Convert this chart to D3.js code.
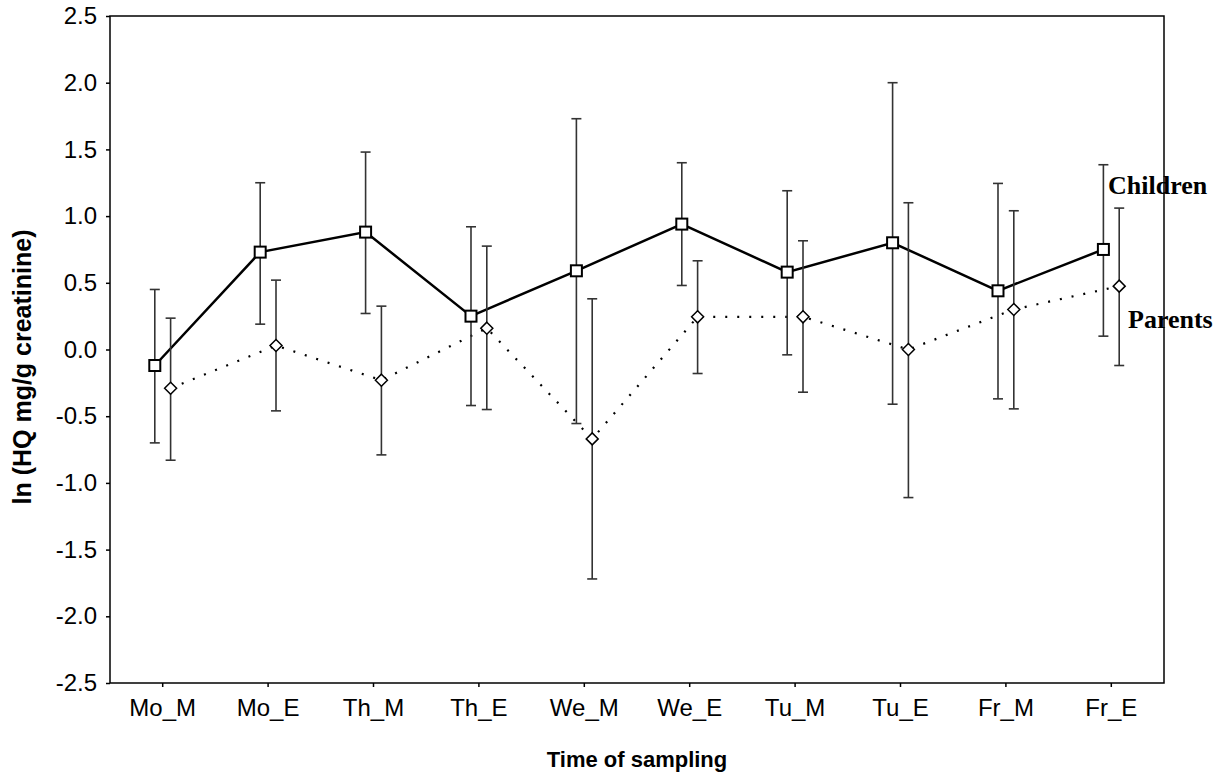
<!DOCTYPE html>
<html lang="en">
<head>
<meta charset="utf-8">
<title>HQ children vs parents</title>
<script src="https://cdn.jsdelivr.net/npm/d3@7"></script>
<style>
  body { margin: 0; background: #fff; }
  text { font-family: Arial, "Liberation Sans", sans-serif; }
  text.serif { font-family: "Liberation Serif", "Times New Roman", serif; }
</style>
</head>
<body>
<script>
// categories and values
var times = ["Mo_M","Mo_E","Th_M","Th_E","We_M","We_E","Tu_M","Tu_E","Fr_M","Fr_E"];
var childMean = [-0.12, 0.73, 0.88, 0.25, 0.59, 0.94, 0.58, 0.80, 0.44, 0.75];
var childLow  = [-0.70, 0.19, 0.27, -0.42, -0.555, 0.48, -0.04, -0.41, -0.37, 0.10];
var childHigh = [0.45, 1.25, 1.48, 0.92, 1.73, 1.40, 1.19, 2.00, 1.245, 1.385];
var parMean = [-0.29, 0.03, -0.23, 0.16, -0.67, 0.245, 0.245, 0.0, 0.30, 0.475];
var parLow  = [-0.83, -0.46, -0.79, -0.45, -1.72, -0.18, -0.32, -1.11, -0.445, -0.12];
var parHigh = [0.235, 0.52, 0.325, 0.775, 0.38, 0.665, 0.815, 1.10, 1.04, 1.06];
var yTicks = [-2.5,-2.0,-1.5,-1.0,-0.5,0.0,0.5,1.0,1.5,2.0,2.5];

var w = 1228, h = 773;
var mLeft = 110, mRight = 1164, mTop = 16, mBottom = 683;

var svg = d3.select("body").append("svg").attr("width", w).attr("height", h);

var x = d3.scaleBand().domain(times).range([mLeft, mRight]).padding(0);
var y = d3.scaleLinear().domain([-2.5, 2.5]).range([mBottom, mTop]);
var off = x.bandwidth() * 0.075;

function series(mean, lo, hi, dx) {
  return times.map(function(t, i) {
    return { t: t, m: mean[i], lo: lo[i], hi: hi[i], x: x(t) + x.bandwidth() / 2 + dx };
  });
}
var kids = series(childMean, childLow, childHigh, -off);
var pars = series(parMean, parLow, parHigh, off);

// axes
var xAxis = d3.axisBottom(x).tickSize(4).tickSizeOuter(0);
var gx = svg.append("g").attr("transform", "translate(0," + mBottom + ")").call(xAxis);
gx.selectAll("text").attr("font-size", 24).attr("dy", "1.1em").attr("fill", "#000");

var yAxis = d3.axisLeft(y).tickValues(yTicks).tickFormat(d3.format(".1f")).tickSize(4).tickSizeOuter(0);
var gy = svg.append("g").attr("transform", "translate(" + mLeft + ",0)").call(yAxis);
gy.selectAll("text").attr("font-size", 24).attr("x", -13).attr("fill", "#000")
  .text(function(d) { return d3.format(".1f")(d).replace("\u2212", "-"); });

svg.selectAll(".domain").remove();
svg.selectAll(".tick line").attr("stroke", "#000").attr("stroke-width", 1.5);

// frame
svg.append("rect").attr("x", mLeft).attr("y", mTop).attr("width", mRight - mLeft).attr("height", mBottom - mTop)
  .attr("fill", "none").attr("stroke", "#000").attr("stroke-width", 1.5);

// axis titles
svg.append("text").attr("x", (mLeft + mRight) / 2).attr("y", 767).attr("text-anchor", "middle")
  .attr("font-size", 22).attr("font-weight", "bold").text("Time of sampling");
svg.append("text").attr("transform", "translate(31,367) rotate(-90)")
  .attr("text-anchor", "middle").attr("font-size", 25).attr("font-weight", "bold")
  .text("ln (HQ mg/g creatinine)");

// lines
var line = d3.line().x(function(d) { return d.x; }).y(function(d) { return y(d.m); });
svg.append("path").datum(pars).attr("d", line).attr("fill", "none").attr("stroke", "#000")
  .attr("stroke-width", 2.2).attr("stroke-dasharray", "2,10");
svg.append("path").datum(kids).attr("d", line).attr("fill", "none").attr("stroke", "#000")
  .attr("stroke-width", 2.5);

// error bars
function errBars(data, cls) {
  var g = svg.append("g").attr("class", cls).attr("stroke", "#333").attr("stroke-width", 1.6);
  g.selectAll(".v").data(data).enter().append("line")
    .attr("x1", function(d) { return d.x; }).attr("x2", function(d) { return d.x; })
    .attr("y1", function(d) { return y(d.lo); }).attr("y2", function(d) { return y(d.hi); });
  g.selectAll(".lo").data(data).enter().append("line")
    .attr("x1", function(d) { return d.x - 5; }).attr("x2", function(d) { return d.x + 5; })
    .attr("y1", function(d) { return y(d.lo); }).attr("y2", function(d) { return y(d.lo); });
  g.selectAll(".hi").data(data).enter().append("line")
    .attr("x1", function(d) { return d.x - 5; }).attr("x2", function(d) { return d.x + 5; })
    .attr("y1", function(d) { return y(d.hi); }).attr("y2", function(d) { return y(d.hi); });
}
errBars(pars, "perr");
errBars(kids, "kerr");

// markers
svg.selectAll(".sq").data(kids).enter().append("rect")
  .attr("x", function(d) { return d.x - 5.5; }).attr("y", function(d) { return y(d.m) - 5.5; })
  .attr("width", 11).attr("height", 11).attr("fill", "#fff").attr("stroke", "#000").attr("stroke-width", 2);
svg.selectAll(".dm").data(pars).enter().append("path")
  .attr("d", function(d) {
    var cx = d.x, cy = y(d.m), r = 6;
    return "M" + cx + "," + (cy - r) + "L" + (cx + r) + "," + cy + "L" + cx + "," + (cy + r) + "L" + (cx - r) + "," + cy + "Z";
  })
  .attr("fill", "#fff").attr("stroke", "#000").attr("stroke-width", 1.5);

// series labels
svg.append("text").attr("class", "serif").attr("x", 1108).attr("y", 194)
  .attr("font-weight", "bold").attr("font-size", 26).text("Children");
svg.append("text").attr("class", "serif").attr("x", 1128).attr("y", 328)
  .attr("font-weight", "bold").attr("font-size", 26).text("Parents");
</script>
</body>
</html>
